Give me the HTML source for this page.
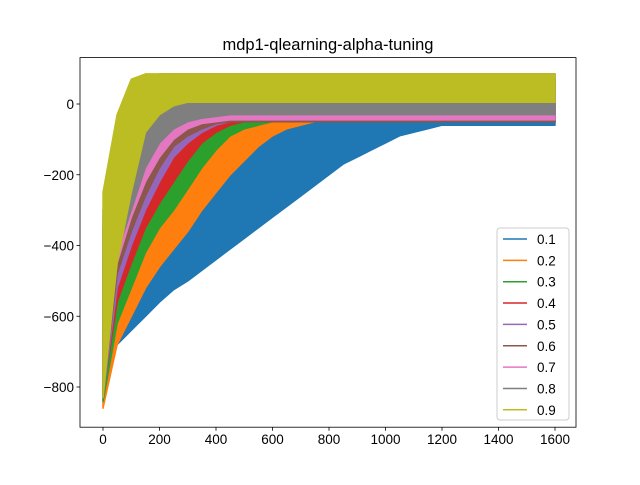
<!DOCTYPE html>
<html><head><meta charset="utf-8"><style>
body{margin:0;background:#fff}
svg{font-family:"Liberation Sans","DejaVu Sans",sans-serif}
</style></head><body>
<svg id="chart" width="640" height="480">
<rect width="640" height="480" fill="#fff"/>
<text x="328" y="50" text-anchor="middle" font-size="16.5">mdp1-qlearning-alpha-tuning</text>
<g id="plot"></g>
</svg>
<script>
const step = 50;
const labels = ["0.1","0.2","0.3","0.4","0.5","0.6","0.7","0.8","0.9"];
const colors = ["#1f77b4","#ff7f0e","#2ca02c","#d62728","#9467bd","#8c564b","#e377c2","#7f7f7f","#bcbd22"];
const xTicks = [0,200,400,600,800,1000,1200,1400,1600];
const yTicks = [0,-200,-400,-600,-800];
// per-series band (upper / lower envelope of reward), sampled every 50 episodes
const up01 = [-450,-420,-330,-280,-240,-200,-170,-140,-110,-90,-70,-50,-40,-30,-20,-10,-10,0,10,20,30,40,50,60,70,70,70,70,70,70,70,70,70];
const lo01 = [-830,-680,-640,-600,-560,-525,-500,-470,-440,-410,-380,-350,-320,-290,-260,-230,-200,-170,-150,-130,-110,-90,-80,-70,-60,-60,-60,-60,-60,-60,-60,-60,-60];
const up02 = [-450,-300,-200,-150,-110,-70,-50,-30,-10,0,10,30,50,60,70,70,70,70,70,70,70,70,70,70,70,70,70,70,70,70,70,70,70];
const lo02 = [-860,-680,-600,-520,-460,-410,-360,-300,-250,-200,-160,-120,-90,-70,-60,-50,-50,-50,-50,-50,-50,-50,-50,-50,-50,-50,-50,-50,-50,-50,-50,-50,-50];
const up03 = [-420,-250,-150,-100,-60,-30,0,20,40,60,70,70,70,70,70,70,70,70,70,70,70,70,70,70,70,70,70,70,70,70,70,70,70];
const lo03 = [-840,-620,-520,-420,-350,-300,-240,-180,-130,-90,-70,-60,-50,-50,-50,-50,-50,-50,-50,-50,-50,-50,-50,-50,-50,-50,-50,-50,-50,-50,-50,-50,-50];
const up04 = [-400,-200,-100,-50,-20,10,30,50,70,70,70,70,70,70,70,70,70,70,70,70,70,70,70,70,70,70,70,70,70,70,70,70,70];
const lo04 = [-820,-560,-450,-350,-280,-220,-160,-110,-80,-60,-50,-50,-50,-50,-50,-50,-50,-50,-50,-50,-50,-50,-50,-50,-50,-50,-50,-50,-50,-50,-50,-50,-50];
const up05 = [-380,-180,-80,-20,20,50,70,70,70,70,70,70,70,70,70,70,70,70,70,70,70,70,70,70,70,70,70,70,70,70,70,70,70];
const lo05 = [-830,-520,-400,-300,-220,-150,-110,-80,-60,-50,-50,-50,-50,-50,-50,-50,-50,-50,-50,-50,-50,-50,-50,-50,-50,-50,-50,-50,-50,-50,-50,-50,-50];
const up06 = [-350,-150,-50,10,50,70,70,70,70,70,70,70,70,70,70,70,70,70,70,70,70,70,70,70,70,70,70,70,70,70,70,70,70];
const lo06 = [-820,-480,-360,-260,-180,-120,-90,-70,-55,-50,-50,-50,-50,-50,-50,-50,-50,-50,-50,-50,-50,-50,-50,-50,-50,-50,-50,-50,-50,-50,-50,-50,-50];
const up07 = [-320,-120,-20,40,70,85,85,85,85,85,85,85,85,85,85,85,85,85,85,85,85,85,85,85,85,85,85,85,85,85,85,85,85];
const lo07 = [-800,-450,-320,-220,-150,-100,-70,-55,-50,-45,-45,-45,-45,-45,-45,-45,-45,-45,-45,-45,-45,-45,-45,-45,-45,-45,-45,-45,-45,-45,-45,-45,-45];
const up08 = [-300,-100,20,70,85,85,85,85,85,85,85,85,85,85,85,85,85,85,85,85,85,85,85,85,85,85,85,85,85,85,85,85,85];
const lo08 = [-810,-420,-300,-180,-110,-70,-50,-40,-35,-30,-30,-30,-30,-30,-30,-30,-30,-30,-30,-30,-30,-30,-30,-30,-30,-30,-30,-30,-30,-30,-30,-30,-30];
const up09 = [-250,-30,70,85,85,85,85,85,85,85,85,85,85,85,85,85,85,85,85,85,85,85,85,85,85,85,85,85,85,85,85,85,85];
const lo09 = [-830,-450,-250,-80,-30,-5,5,5,5,5,5,5,5,5,5,5,5,5,5,5,5,5,5,5,5,5,5,5,5,5,5,5,5];
const uppers = [up01,up02,up03,up04,up05,up06,up07,up08,up09];
const lowers = [lo01,lo02,lo03,lo04,lo05,lo06,lo07,lo08,lo09];

const L=80,R=576,T=57.6,B=427.2;
const x = v => 103 + v*0.2825;
const y = v => 104 - v*0.35375;
const NS="http://www.w3.org/2000/svg";
const g=document.getElementById('plot');
function mk(tag,attrs,parent){const e=document.createElementNS(NS,tag);for(const k in attrs)e.setAttribute(k,attrs[k]);(parent||g).appendChild(e);return e;}

const clip=mk('clipPath',{id:'cp'});mk('rect',{x:L,y:T,width:R-L,height:B-T},clip);
uppers.forEach((u,k)=>{
  const lo=lowers[k];
  const pts=u.map((v,i)=>x(i*step).toFixed(1)+','+y(v).toFixed(1));
  for(let i=lo.length-1;i>=0;i--) pts.push(x(i*step).toFixed(1)+','+y(lo[i]).toFixed(1));
  const p=mk('polygon',{points:pts.join(' '),fill:colors[k],stroke:colors[k],'stroke-width':1.5,'stroke-linejoin':'round','clip-path':'url(#cp)'});
  
  
});
const frame=mk('rect',{x:L,y:T,width:R-L,height:B-T,fill:'none',stroke:'#000','stroke-width':0.8});


xTicks.forEach(t=>{
  mk('line',{x1:x(t),x2:x(t),y1:B,y2:B+3.5,stroke:'#000','stroke-width':0.8});
  const tx=mk('text',{x:x(t),y:B+17,'text-anchor':'middle','font-size':13.5});tx.textContent=t;
  
  
});
yTicks.forEach(t=>{
  mk('line',{x1:L-3.5,x2:L,y1:y(t),y2:y(t),stroke:'#000','stroke-width':0.8});
  const tx=mk('text',{x:L-6,y:y(t)+5,'text-anchor':'end','font-size':13.5});tx.textContent=t===0?'0':'\u2212'+Math.abs(t);
  
  
});
const lg=mk('g',{});


mk('rect',{x:497,y:228,width:72,height:192,rx:3,fill:'#fff','fill-opacity':0.8,stroke:'#ccc'},lg);
labels.forEach((lab,k)=>{
  const yy=239+k*21.35;
  const ln=mk('line',{x1:503,x2:527,y1:yy,y2:yy,stroke:colors[k],'stroke-width':1.5},lg);
  
  
  const tx=mk('text',{x:537,y:yy+5,'font-size':13.5},lg);tx.textContent=lab;
  
  
});
</script>
</body></html>
